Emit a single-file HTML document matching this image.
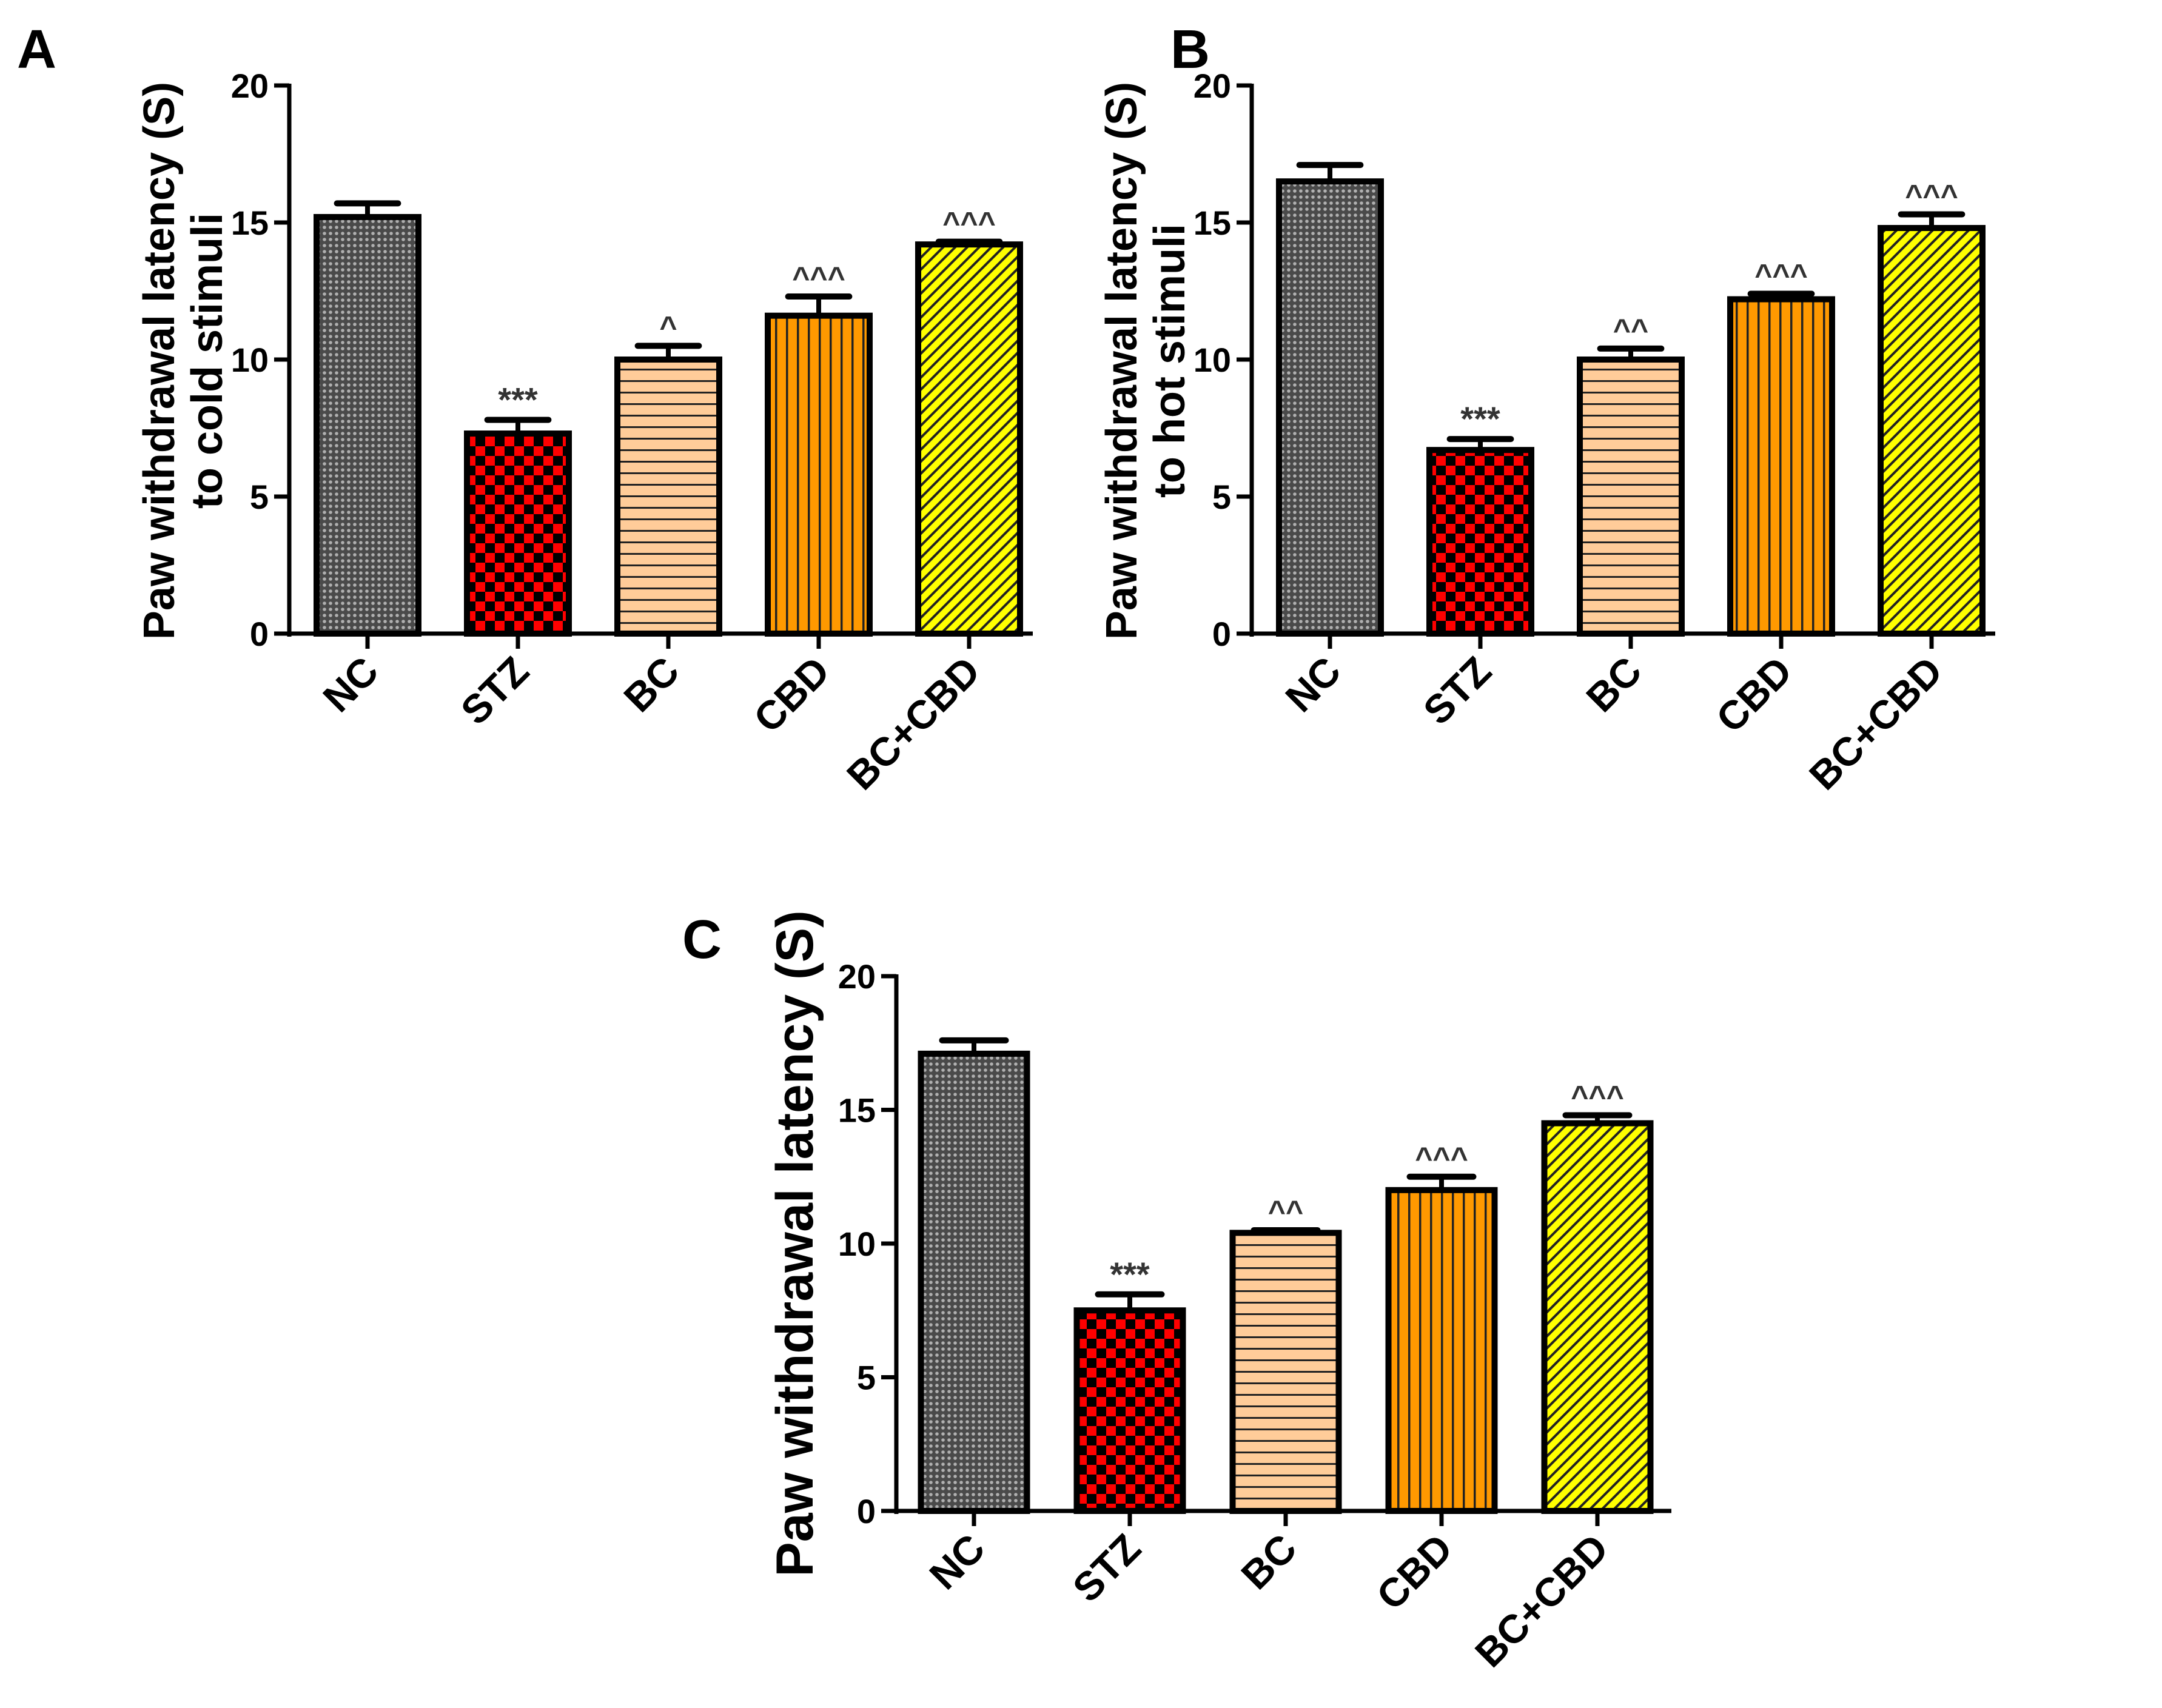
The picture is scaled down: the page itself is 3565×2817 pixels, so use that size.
<!DOCTYPE html>
<html><head><meta charset="utf-8"><style>
html,body{margin:0;padding:0;background:#fff}
svg{display:block}
text{font-family:"Liberation Sans",Arial,sans-serif;font-weight:bold}
</style></head><body>
<svg id="fig" width="3565" height="2817" viewBox="0 0 3565 2817" xmlns="http://www.w3.org/2000/svg">
<defs>
<pattern id="pNC" width="10" height="10" patternUnits="userSpaceOnUse"><rect width="10" height="10" fill="#4a4a4a"/><circle cx="5" cy="5" r="2.8" fill="#b0b0b0"/></pattern>
<pattern id="pSTZ" width="32" height="32" patternUnits="userSpaceOnUse"><rect width="32" height="32" fill="#ff0000"/><rect width="16" height="16" fill="#000"/><rect x="16" y="16" width="16" height="16" fill="#000"/></pattern>
<pattern id="pBC" width="10" height="19" patternUnits="userSpaceOnUse"><rect width="10" height="19" fill="#ffcc99"/><rect y="0" width="10" height="3" fill="#222"/></pattern>
<pattern id="pCBD" width="18" height="10" patternUnits="userSpaceOnUse"><rect width="18" height="10" fill="#ff9900"/><rect x="0" width="3.5" height="10" fill="#222"/></pattern>
<pattern id="pBCCBD" width="14" height="14" patternUnits="userSpaceOnUse" patternTransform="rotate(45)"><rect width="14" height="14" fill="#ffff00"/><rect width="4" height="14" fill="#222"/></pattern>
</defs>
</svg>
<script>
const categories = ["NC","STZ","BC","CBD","BC+CBD"];
const valuesA = [15.2, 7.3, 10.0, 11.6, 14.2];
const errorsA = [0.5, 0.5, 0.5, 0.7, 0.1];
const marksA = ["", "***", "^", "^^^", "^^^"];
const valuesB = [16.5, 6.7, 10.0, 12.2, 14.8];
const errorsB = [0.6, 0.4, 0.4, 0.2, 0.5];
const marksB = ["", "***", "^^", "^^^", "^^^"];
const valuesC = [17.1, 7.5, 10.4, 12.0, 14.5];
const errorsC = [0.5, 0.6, 0.1, 0.5, 0.3];
const marksC = ["", "***", "^^", "^^^", "^^^"];
const yTicks = [0, 5, 10, 15, 20];
const fills = ["url(#pNC)","url(#pSTZ)","url(#pBC)","url(#pCBD)","url(#pBCCBD)"];
const NS = "http://www.w3.org/2000/svg";
const svg = document.getElementById('fig');
function el(tag, attrs, parent, txt){const e=document.createElementNS(NS,tag);for(const k in attrs)e.setAttribute(k,attrs[k]);if(txt!==undefined)e.textContent=txt;(parent||svg).appendChild(e);return e;}

function panel(cfg){
  const g = el('g',{});
  
  
  const y = v => cfg.y0 - (v/20)*(cfg.y0-cfg.y20);
  const x = i => cfg.x0 + i*cfg.step;
  const lt = el('text',{x:cfg.lx,y:cfg.ly,'font-size':90,fill:'#000'},g,cfg.letter);
  
  
  const ya = el('line',{x1:cfg.ax,y1:cfg.y20-3,x2:cfg.ax,y2:cfg.y0+5,stroke:'#000','stroke-width':7},g);
  
  
  const xa = el('line',{x1:cfg.ax-25,y1:cfg.y0,x2:cfg.xend,y2:cfg.y0,stroke:'#000','stroke-width':7},g);
  
  
  yTicks.forEach(t=>{
    el('line',{x1:cfg.ax-25,y1:y(t),x2:cfg.ax,y2:y(t),stroke:'#000','stroke-width':7},g);
    const tl = el('text',{x:cfg.ax-34,y:y(t)+20,'font-size':56,'text-anchor':'end',fill:'#000'},g,String(t));
    
    
  });
  const tg = el('text',{transform:`translate(${cfg.tx},${cfg.ty}) rotate(-90)`,'font-size':cfg.tfs,'text-anchor':'middle',fill:'#000'},g);
  
  
  cfg.title.forEach((line,k)=>{el('tspan',{x:0,dy:k===0?0:cfg.tfs*1.1},tg,line);});
  categories.forEach((c,i)=>{
    const cx = x(i), v = cfg.values[i], e = cfg.errors[i];
    const bw = cfg.bw;
    const bar = el('rect',{x:cx-bw/2,y:y(v),width:bw,height:cfg.y0-y(v),fill:fills[i],stroke:'#000','stroke-width':10},g);
    
    
    const eb = el('g',{},g);
    
    
    el('line',{x1:cx,y1:y(v),x2:cx,y2:y(v+e),stroke:'#000','stroke-width':8},eb);
    el('line',{x1:cx-bw*0.3,y1:y(v+e),x2:cx+bw*0.3,y2:y(v+e),stroke:'#000','stroke-width':10,'stroke-linecap':'round'},eb);
    el('line',{x1:cx,y1:cfg.y0,x2:cx,y2:cfg.y0+25,stroke:'#000','stroke-width':7},g);
    if(cfg.marks[i]){
      const m = el('text',{x:cx,y:y(v+e)-14,'font-size':cfg.marks[i]==='***'?56:50,'font-weight':'normal','text-anchor':'middle',fill:'#333'},g,cfg.marks[i]);
      
      
    }
    const cl = el('text',{transform:`translate(${cx+22},${cfg.y0+66}) rotate(-45)`,'font-size':66,'text-anchor':'end',fill:'#000'},g,c);
    
    
  });
}
panel({letter:'A',lx:28,ly:112,ax:477,y20:141,y0:1045,x0:606,step:248,bw:168,xend:1703,
  values:valuesA,errors:errorsA,marks:marksA,tx:287,ty:595,tfs:72,
  title:["Paw withdrawal latency (S)","to cold stimuli"]});
panel({letter:'B',lx:1930,ly:112,ax:2064,y20:141,y0:1045,x0:2193,step:248,bw:168,xend:3290,
  values:valuesB,errors:errorsB,marks:marksB,tx:1874,ty:595,tfs:72,
  title:["Paw withdrawal latency (S)","to hot stimuli"]});
panel({letter:'C',lx:1125,ly:1580,ax:1478,y20:1610,y0:2492,x0:1606,step:257,bw:175,xend:2756,
  values:valuesC,errors:errorsC,marks:marksC,tx:1340,ty:2051,tfs:86,
  title:["Paw withdrawal latency (S)"]});
</script>
</body></html>
